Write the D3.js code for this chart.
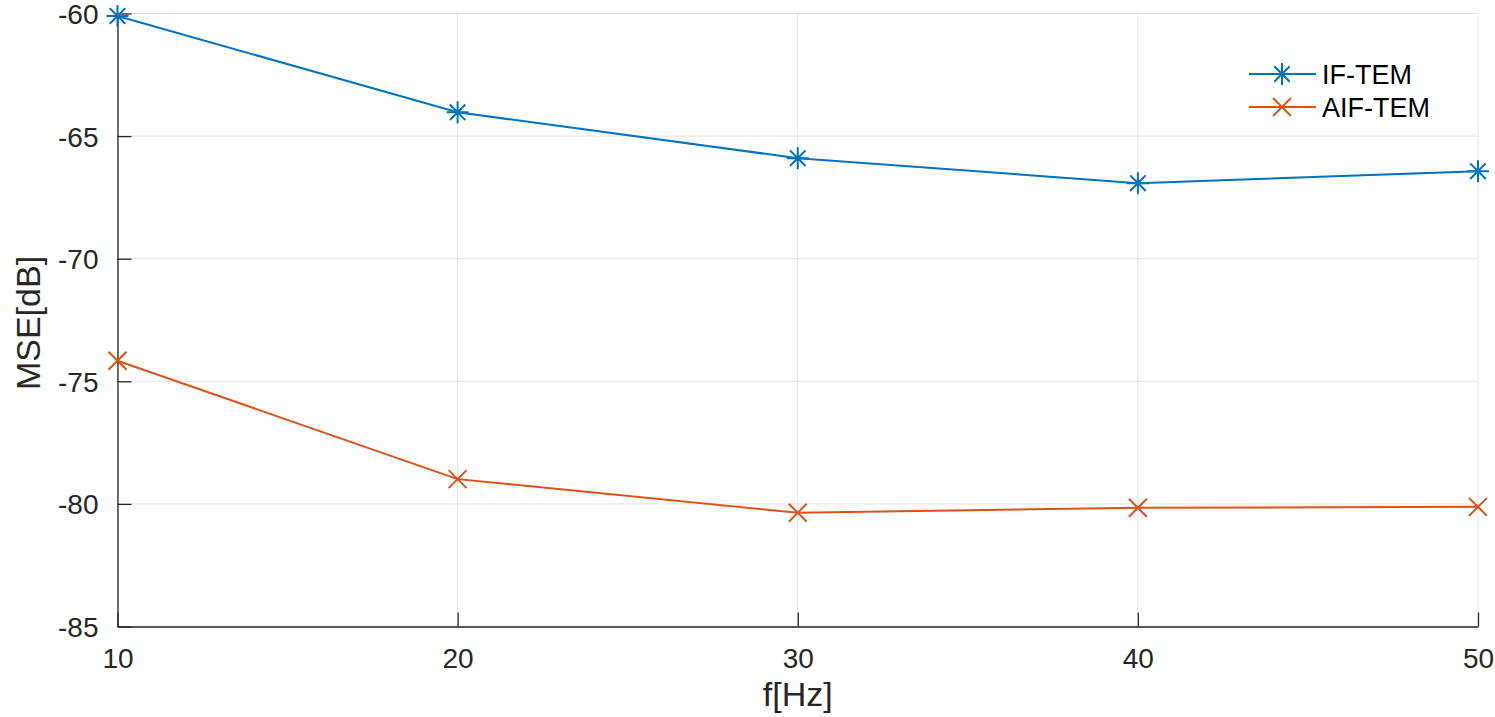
<!DOCTYPE html>
<html>
<head>
<meta charset="utf-8">
<script src="https://cdn.jsdelivr.net/npm/d3@7.9.0/dist/d3.min.js"></script>
<style>
  body { margin: 0; background: #fff; }
  svg { display: block; font-family: "Liberation Sans", Arial, sans-serif; }
</style>
</head>
<body>
<svg width="1495" height="717"></svg>
<script>
// Data
const freqs = [10, 20, 30, 40, 50];
const ifTem = [-60.1, -64.03, -65.9, -66.92, -66.43];
const aifTem = [-74.16, -78.99, -80.36, -80.16, -80.12];
const xTicks = [10, 20, 30, 40, 50];
const yTicks = [-60, -65, -70, -75, -80, -85];

const series = [
  { name: 'IF-TEM', values: ifTem, color: '#0072BD', marker: 'star' },
  { name: 'AIF-TEM', values: aifTem, color: '#D95319', marker: 'cross' }
];

const svg = d3.select('svg');
const margin = { left: 117.5, right: 1478, top: 13.5, bottom: 626.5 };

const x = d3.scaleLinear().domain([10, 50]).range([margin.left, margin.right]);
const y = d3.scaleLinear().domain([-85, -60]).range([margin.bottom, margin.top]);

// Grid lines
svg.append('g')
  .selectAll('line')
  .data(xTicks)
  .join('line')
  .attr('x1', d => x(d)).attr('x2', d => x(d))
  .attr('y1', margin.top).attr('y2', margin.bottom)
  .attr('stroke', '#e3e3e3').attr('stroke-width', 1);

svg.append('g')
  .selectAll('line')
  .data(yTicks)
  .join('line')
  .attr('x1', margin.left).attr('x2', margin.right)
  .attr('y1', d => y(d)).attr('y2', d => y(d))
  .attr('stroke', '#e3e3e3').attr('stroke-width', 1);

// Axes (ticks point inward), plain hyphen minus like the original
const fmt = d => String(d);
const xAxis = d3.axisBottom(x).tickValues(xTicks).tickFormat(fmt).tickSizeInner(-14).tickSizeOuter(0);
const yAxis = d3.axisLeft(y).tickValues(yTicks).tickFormat(fmt).tickSizeInner(-14).tickSizeOuter(0);

const gx = svg.append('g').attr('transform', `translate(0,${margin.bottom})`).call(xAxis);
const gy = svg.append('g').attr('transform', `translate(${margin.left},0)`).call(yAxis);

[gx, gy].forEach(g => {
  g.select('.domain').attr('stroke', '#262626').attr('stroke-width', 1.3);
  g.selectAll('.tick line').attr('stroke', '#262626').attr('stroke-width', 1.3);
  g.selectAll('.tick text')
    .attr('fill', '#262626')
    .attr('font-size', 28)
    .attr('font-family', '"Liberation Sans", Arial, sans-serif');
});
gx.selectAll('.tick text').attr('y', 41.5).attr('dy', 0);
gy.selectAll('.tick text').attr('x', -19).attr('dy', '0.36em');

// Axis labels
svg.append('text')
  .attr('x', x(30)).attr('y', 706)
  .attr('text-anchor', 'middle')
  .attr('font-size', 34).attr('fill', '#262626')
  .text('f[Hz]');

svg.append('text')
  .attr('transform', `translate(40,323) rotate(-90)`)
  .attr('text-anchor', 'middle')
  .attr('font-size', 34).attr('fill', '#262626')
  .text('MSE[dB]');

// Marker drawing
function drawMarker(g, type, cx, cy, color) {
  const r = type === 'star' ? 11 : 9;
  const dd = type === 'star' ? r * 0.707 : r;
  const path = d3.path();
  if (type === 'star') {
    path.moveTo(cx - r, cy); path.lineTo(cx + r, cy);
    path.moveTo(cx, cy - r); path.lineTo(cx, cy + r);
  }
  path.moveTo(cx - dd, cy - dd); path.lineTo(cx + dd, cy + dd);
  path.moveTo(cx - dd, cy + dd); path.lineTo(cx + dd, cy - dd);
  g.append('path')
    .attr('d', path.toString())
    .attr('stroke', color).attr('stroke-width', 2).attr('fill', 'none');
}

const line = d3.line().x((d, i) => x(freqs[i])).y(d => y(d));

series.forEach(s => {
  const g = svg.append('g');
  g.append('path')
    .attr('d', line(s.values))
    .attr('fill', 'none')
    .attr('stroke', s.color)
    .attr('stroke-width', 2);
  s.values.forEach((v, i) => drawMarker(g, s.marker, x(freqs[i]), y(v), s.color));
});

// Legend
const legend = svg.append('g');
series.forEach((s, i) => {
  const ly = 74 + i * 33;
  legend.append('line')
    .attr('x1', 1249).attr('x2', 1316)
    .attr('y1', ly).attr('y2', ly)
    .attr('stroke', s.color).attr('stroke-width', 2);
  drawMarker(legend, s.marker, 1282, ly, s.color);
  legend.append('text')
    .attr('x', 1322).attr('y', ly)
    .attr('dy', '0.36em')
    .attr('font-size', 27)
    .attr('fill', '#000')
    .text(s.name);
});
</script>
</body>
</html>
